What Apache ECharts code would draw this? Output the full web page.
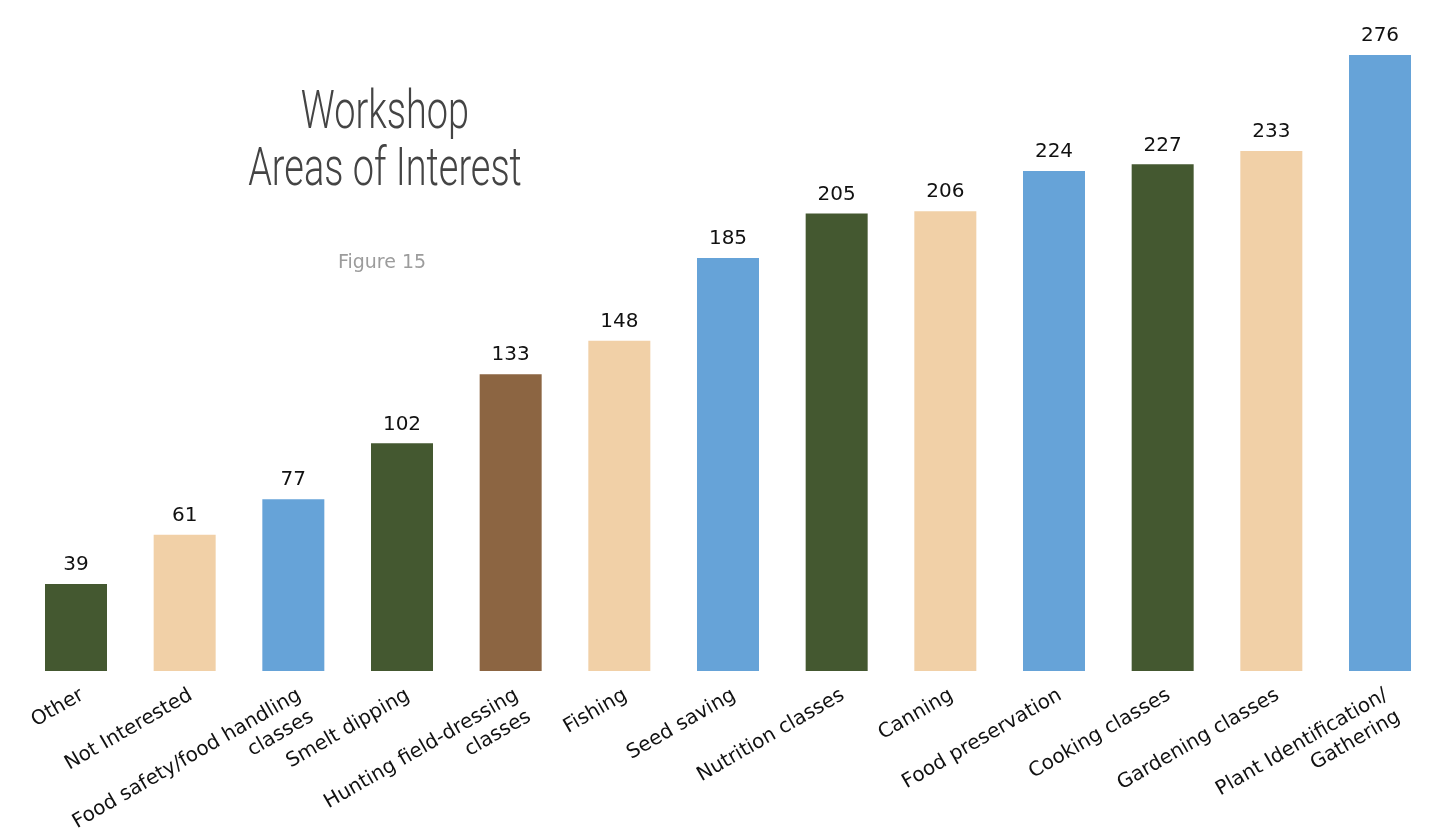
<!DOCTYPE html>
<html>
<head>
<meta charset="utf-8">
<style>
html,body{margin:0;padding:0;background:#fff;}
#chart{width:1430px;height:834px;}
</style>
<script src="https://cdn.jsdelivr.net/npm/echarts@6/dist/echarts.min.js"></script>
</head>
<body>
<div id="chart"></div>
<script>
const titleLines = ['Workshop', 'Areas of Interest'];
const subtitle = 'Figure 15';
const categories = [
  'Other', 'Not Interested', 'Food safety/food handling\nclasses', 'Smelt dipping',
  'Hunting field-dressing\nclasses', 'Fishing', 'Seed saving', 'Nutrition classes',
  'Canning', 'Food preservation', 'Cooking classes', 'Gardening classes',
  'Plant Identification/\nGathering'
];
const values = [39, 61, 77, 102, 133, 148, 185, 205, 206, 224, 227, 233, 276];
const barColors = ['#445830', '#F1D0A7', '#66A3D8', '#445830', '#8C6542', '#F1D0A7', '#66A3D8',
  '#445830', '#F1D0A7', '#66A3D8', '#445830', '#F1D0A7', '#66A3D8'];

const titleFont = '300 53px Roboto, "DejaVu Sans", sans-serif';

const chart = echarts.init(document.getElementById('chart'));
chart.setOption({
  backgroundColor: '#ffffff',
  animation: false,
  graphic: [
    {
      type: 'text', x: 385, y: 115, scaleX: 0.715,
      style: { text: titleLines[0], font: titleFont, fill: '#444444', align: 'center', verticalAlign: 'middle' }
    },
    {
      type: 'text', x: 385, y: 172, scaleX: 0.715,
      style: { text: titleLines[1], font: titleFont, fill: '#444444', align: 'center', verticalAlign: 'middle' }
    },
    {
      type: 'text', x: 382, y: 263,
      style: { text: subtitle, font: 'normal 19px "DejaVu Sans", sans-serif', fill: '#9c9c9c', align: 'center', verticalAlign: 'middle' }
    }
  ],
  grid: { left: 76, right: 50, top: 55, bottom: 163, outerBoundsMode: 'none', containLabel: false },
  xAxis: {
    type: 'category',
    data: categories,
    boundaryGap: false,
    axisLine: { show: false },
    axisTick: { show: false },
    axisLabel: {
      interval: 0, rotate: 30, margin: 12,
      align: 'right', verticalAlign: 'top',
      fontFamily: '"DejaVu Sans", sans-serif', fontSize: 20, color: '#111111', lineHeight: 25
    }
  },
  yAxis: { type: 'value', min: 0, max: 276, show: false },
  series: [{
    type: 'bar',
    barWidth: 62,
    clip: false,
    data: values.map((v, i) => ({ value: v, itemStyle: { color: barColors[i] } })),
    label: {
      show: true, position: 'top', distance: 9,
      fontFamily: '"DejaVu Sans", sans-serif', fontSize: 20, color: '#111111'
    }
  }]
});
</script>
</body>
</html>
